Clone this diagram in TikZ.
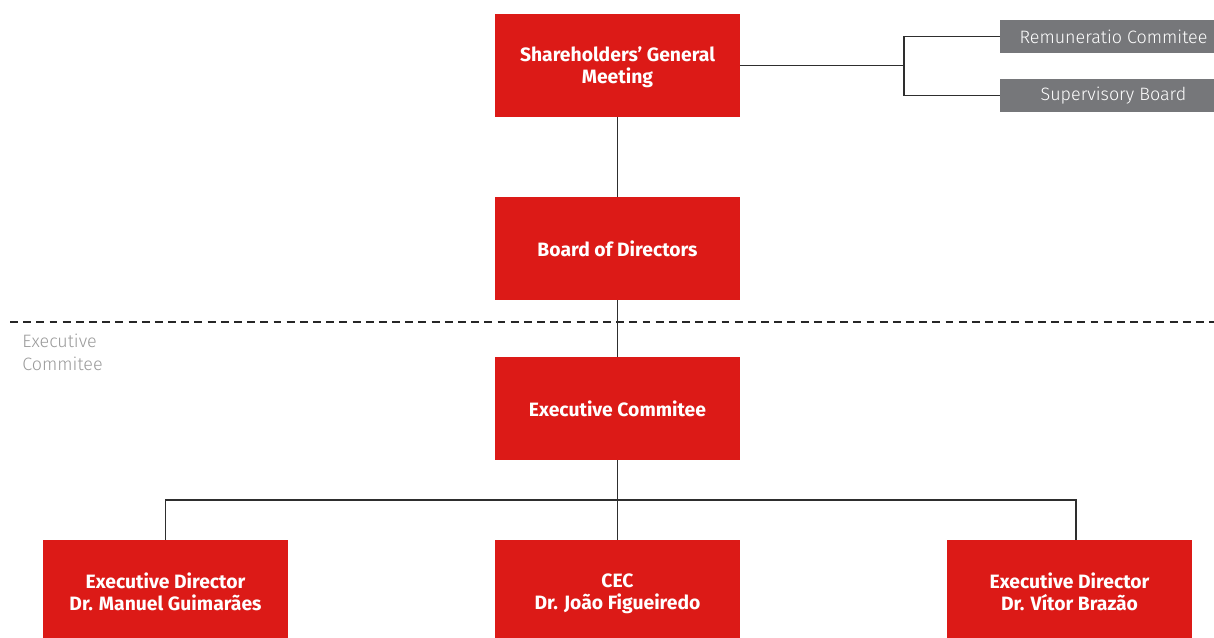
\documentclass[tikz,border=0pt]{standalone}
\usepackage{fontspec}
\setmainfont{Fira Sans}
\newfontfamily\thinfont{Fira Sans Light}
\usetikzlibrary{positioning,calc}
\definecolor{orgred}{HTML}{DC1A17}
\definecolor{orggrey}{HTML}{76777A}
\definecolor{linegrey}{HTML}{2E2E2E}
\definecolor{notegrey}{HTML}{9A9A9A}
\tikzset{
  % boxes
  ob/.style={rectangle,fill=orgred,text=white,inner sep=0pt,text depth=0pt,
             minimum width=4.9cm,minimum height=2.06cm,align=center,
             font=\fontsize{11}{12.5}\selectfont\bfseries},
  sb/.style={rectangle,fill=orggrey,text=white,inner sep=0pt,
             minimum width=4.28cm,minimum height=0.66cm,
             execute at begin node={\hspace*{0.26cm}},
             font=\fontsize{10.2}{11}\selectfont\thinfont},
  % lines
  ol/.style={draw=linegrey,line width=0.8pt},
  sep/.style={draw=black!85,line width=0.7pt,dash pattern=on 4.5pt off 3pt},
  note/.style={align=left,anchor=north west,inner sep=0pt,text=notegrey,
               font=\fontsize{10.2}{13}\selectfont\thinfont},
}
\begin{document}
\begin{tikzpicture}[x=0.02cm,y=-0.02cm]
  \useasboundingbox (0,0) rectangle (1214,638);
  \clip (0,0) rectangle (1214,638);
  \node[ob] (sgm) at (617.5,65.5) {Shareholders’ General\\Meeting};
  \node[ob] (bod) at (617.5,248.5) {Board of Directors};
  \node[ob] (exc) at (617.5,408.5) {Executive Commitee};
  \node[ob] (dl) at (165.5,591.5) {Executive Director\\Dr. Manuel Guimarães};
  \node[ob] (cec) at (617.5,591.5) {CEC\\Dr. João Figueiredo};
  \node[ob] (dr) at (1069.5,591.5) {Executive Director\\Dr. Vítor Brazão};
  \node[sb] (rem) at (1107,36.5) {Remuneratio Commitee};
  \node[sb] (sup) at (1107,95.5) {Supervisory Board};
  \coordinate (br) at (904,65.5);
  \coordinate (bus) at (617.5,500);
  \coordinate (sl) at (10,322);
  \coordinate (sr) at (1214,322);
  \node[note] (lbl) at (22,334) {Executive\\Commitee};
  \begin{scope}
  \draw[sep] (sl) -- (sr);
  \draw[ol] (sgm) -- (bod);
  \draw[ol] (bod) -- (exc);
  \draw[ol] (exc) -- (cec);
  \draw[ol] (sgm.east) -- (br);
  \draw[ol] (rem.west) -| (br);
  \draw[ol] (sup.west) -| (br);
  \draw[ol] (dl.north) -- (dl.north |- bus) -- ($(dr.north |- bus)+(6.5,0)$) -- ($(dr.north)+(6.5,0)$);
  \end{scope}
\end{tikzpicture}
\end{document}
